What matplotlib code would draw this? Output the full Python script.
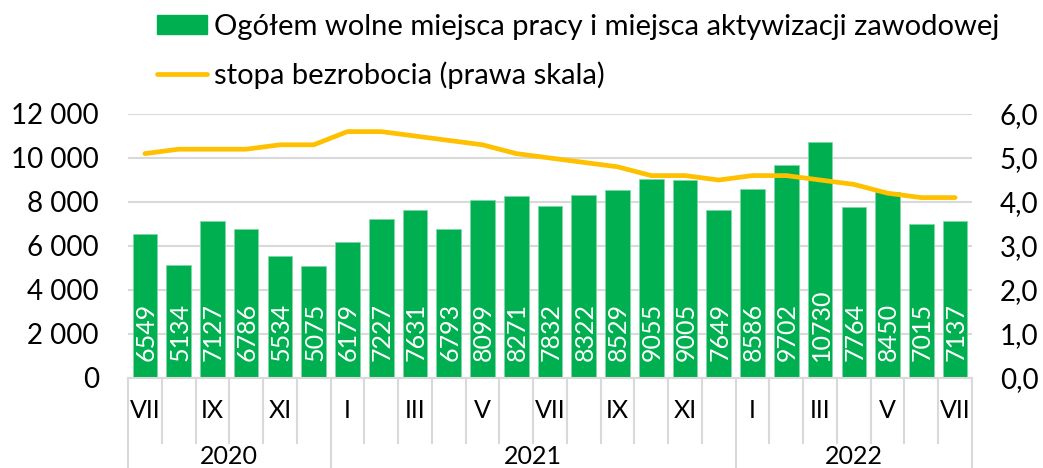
import matplotlib
matplotlib.use("Agg")
import matplotlib.pyplot as plt
from matplotlib.lines import Line2D
from matplotlib.patches import Patch
import matplotlib.transforms as mtransforms
from matplotlib.ticker import FuncFormatter

plt.rcParams['font.family'] = ['Lato', 'DejaVu Sans']

# ---- data ----
month_labels = ["VII", "", "IX", "", "XI", "",
                "I", "", "III", "", "V", "", "VII", "", "IX", "", "XI", "",
                "I", "", "III", "", "V", "", "VII"]
year_labels = ["2020", "2021", "2022"]
year_counts = [6, 12, 7]
vacancies = [6549, 5134, 7127, 6786, 5534, 5075,
             6179, 7227, 7631, 6793, 8099, 8271, 7832, 8322, 8529, 9055, 9005, 7649,
             8586, 9702, 10730, 7764, 8450, 7015, 7137]
unemployment = [5.1, 5.2, 5.2, 5.2, 5.3, 5.3,
                5.6, 5.6, 5.5, 5.4, 5.3, 5.1, 5.0, 4.9, 4.8, 4.6, 4.6, 4.5,
                4.6, 4.6, 4.5, 4.4, 4.2, 4.1, 4.1]
bar_label = "Ogółem wolne miejsca pracy i miejsca aktywizacji zawodowej"
line_label = "stopa bezrobocia (prawa skala)"

GREEN = "#00B050"
YELLOW = "#FFC000"
GRID = "#D9D9D9"
FS = 18
TICK_FS = 20
LEG_FS = 21

W, H = 1043, 468
fig = plt.figure(figsize=(W / 100, H / 100), dpi=100)
ax = fig.add_axes([128 / W, (H - 378) / H, 844 / W, 264 / H])
ax2 = ax.twinx()

x = list(range(len(vacancies)))
ax.bar(x, vacancies, width=0.73, color=GREEN, edgecolor="#7fd8a7", linewidth=0.6, zorder=2)
ax.set_xlim(-0.5, len(x) - 0.5)
ax.set_ylim(0, 12000)
ax.set_yticks(range(0, 12001, 2000))
ax.yaxis.set_major_formatter(FuncFormatter(lambda v, p: f"{int(v):,}".replace(",", " ")))
ax.grid(axis="y", color=GRID, linewidth=1.5, zorder=0)
ax.set_axisbelow(True)
ax.tick_params(axis="y", length=0, pad=21, labelsize=TICK_FS)
ax.set_xticks([])
for s in ["top", "right", "left"]:
    ax.spines[s].set_visible(False)
ax.spines["bottom"].set_color(GRID)
ax.spines["bottom"].set_linewidth(1.5)

for xi, v in zip(x, vacancies):
    ax.annotate(str(v), xy=(xi, 0), xytext=(0.8, 12), textcoords="offset points",
                rotation=90, ha="center", va="bottom", color="white", fontsize=FS, zorder=3)

ax2.plot(x, unemployment, color=YELLOW, linewidth=3.4, solid_capstyle="round",
         solid_joinstyle="round", zorder=4)
ax2.set_ylim(0, 6)
ax2.set_yticks([0, 1, 2, 3, 4, 5, 6])
ax2.yaxis.set_major_formatter(FuncFormatter(lambda v, p: f"{v:.1f}".replace(".", ",")))
ax2.tick_params(axis="y", length=0, pad=20, labelsize=TICK_FS)
for s in ["top", "right", "left", "bottom"]:
    ax2.spines[s].set_visible(False)
ax2.set_xlim(-0.5, len(x) - 0.5)

# two-level category axis
trans = mtransforms.blended_transform_factory(ax.transData, ax.transAxes)
month_y = (378 - 410) / 264
year_y = (378 - 457) / 264
month_bot = (378 - 443) / 264
year_bot = (378 - 470) / 264

year_bounds = [-0.5]
for c in year_counts:
    year_bounds.append(year_bounds[-1] + c)

for b in range(len(x) + 1):
    xb = b - 0.5
    bottom = year_bot if xb in year_bounds else month_bot
    ax.add_line(Line2D([xb, xb], [0, bottom], transform=trans, color=GRID,
                       linewidth=1.5, clip_on=False))

for xi, m in zip(x, month_labels):
    if m:
        ax.text(xi, month_y, m, transform=trans, ha="center", va="center", fontsize=FS)

for i, yl in enumerate(year_labels):
    xc = (year_bounds[i] + year_bounds[i + 1]) / 2
    ax.text(xc, year_y, yl, transform=trans, ha="center", va="center", fontsize=FS)

handles = [Patch(facecolor=GREEN, edgecolor=GREEN),
           Line2D([0], [0], color=YELLOW, linewidth=3.4, solid_capstyle="round")]
fig.legend(handles, [bar_label, line_label], loc="upper left",
           bbox_to_anchor=(157 / W, 1 - 14 / H), frameon=False, fontsize=LEG_FS,
           handlelength=1.7, handleheight=0.62, handletextpad=0.24, labelspacing=0.72,
           borderaxespad=0, borderpad=0)

fig.savefig("out.png", dpi=100)
